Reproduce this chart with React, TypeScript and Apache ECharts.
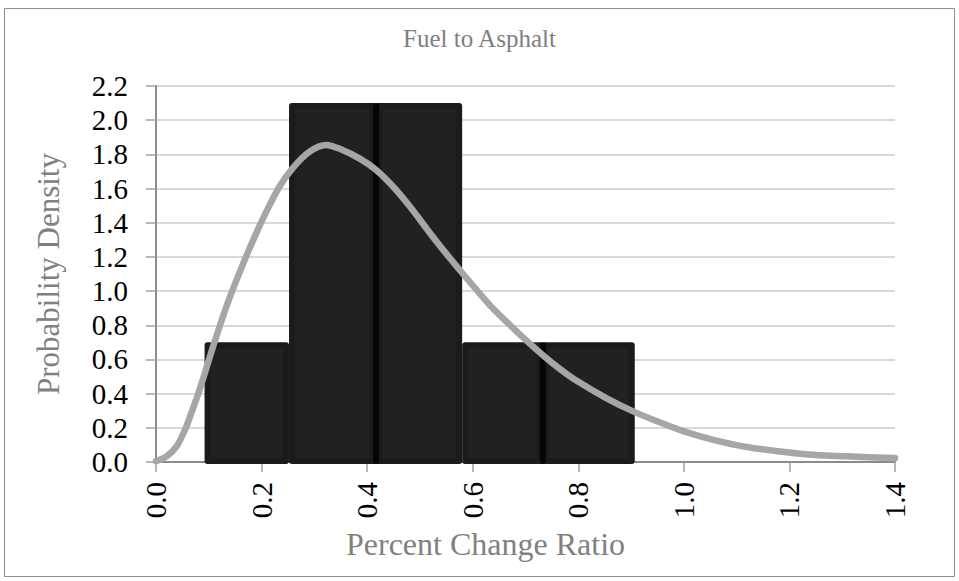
import React, { useEffect, useRef } from "react";
import * as echarts from "echarts";

// Histogram bins: left edge, right edge and density of each bin
const binStart = [0.092, 0.252, 0.417, 0.58, 0.733];
const binEnd = [0.252, 0.417, 0.58, 0.733, 0.907];
const binDensity = [0.7, 2.1, 2.1, 0.7, 0.7];

// Fitted density curve
const curveX = [
  0, 0.02, 0.039, 0.055, 0.067, 0.08, 0.093, 0.105, 0.118, 0.13, 0.143, 0.165,
  0.187, 0.209, 0.234, 0.259, 0.291, 0.322, 0.35, 0.386, 0.417, 0.449, 0.481,
  0.512, 0.544, 0.575, 0.607, 0.638, 0.67, 0.702, 0.733, 0.765, 0.797, 0.853,
  0.904, 0.954, 1.0, 1.056, 1.119, 1.182, 1.245, 1.308, 1.4,
];
const curveY = [
  0.005, 0.033, 0.091, 0.189, 0.287, 0.4, 0.525, 0.645, 0.77, 0.88, 0.99, 1.16,
  1.319, 1.465, 1.612, 1.72, 1.816, 1.855, 1.83, 1.775, 1.709, 1.612, 1.495,
  1.368, 1.241, 1.125, 1.008, 0.9, 0.803, 0.71, 0.625, 0.545, 0.475, 0.374,
  0.296, 0.232, 0.179, 0.13, 0.088, 0.062, 0.043, 0.033, 0.023,
];

const titleText = "Fuel to Asphalt";
const xName = "Percent Change Ratio";
const yName = "Probability Density";

const SERIF = "'Liberation Serif', 'Times New Roman', 'DejaVu Serif', serif";

export default function App() {
  const ref = useRef<HTMLDivElement>(null);

  useEffect(() => {
    if (!ref.current) return;
    const chart = echarts.init(ref.current, null, { renderer: "svg" });

    const bins = binStart.map((s, i) => [s, binEnd[i], binDensity[i]]);
    const curve = curveX.map((x, i) => [x, curveY[i]]);

    chart.setOption({
      animation: false,
      backgroundColor: "#ffffff",
      title: {
        text: titleText,
        left: "center",
        top: 21,
        textStyle: {
          fontFamily: SERIF,
          fontWeight: "normal",
          fontSize: 25,
          color: "#7f7f7f",
        },
      },
      graphic: [
        {
          type: "rect",
          shape: { x: 4.5, y: 8.5, width: 950, height: 568 },
          style: { fill: "none", stroke: "#8c8c8c", lineWidth: 1 },
          silent: true,
        },
      ],
      grid: { left: 156, right: 64, top: 86, bottom: 119 },
      xAxis: {
        type: "value",
        min: 0,
        max: 1.4,
        interval: 0.2,
        name: xName,
        nameLocation: "middle",
        nameGap: 66,
        nameTextStyle: {
          fontFamily: SERIF,
          fontSize: 32,
          color: "#808080",
          padding: [0, 80, 0, 0],
        },
        axisLine: { show: true, onZero: false, lineStyle: { color: "#8c8c8c", width: 2 } },
        axisTick: { show: true, inside: false, length: 10, lineStyle: { color: "#a0a0a0", width: 1.5 } },
        axisLabel: {
          rotate: 90,
          margin: 20,
          fontFamily: SERIF,
          fontSize: 29,
          color: "#000000",
          formatter: (v: number) => v.toFixed(1),
        },
        splitLine: { show: false },
      },
      yAxis: {
        type: "value",
        min: 0,
        max: 2.2,
        interval: 0.2,
        name: yName,
        nameLocation: "middle",
        nameGap: 92,
        nameTextStyle: { fontFamily: SERIF, fontSize: 31, color: "#808080" },
        axisLine: { show: true, lineStyle: { color: "#8c8c8c", width: 2 } },
        axisTick: { show: true, inside: false, length: 10, lineStyle: { color: "#a0a0a0", width: 1.5 } },
        axisLabel: {
          margin: 28,
          fontFamily: SERIF,
          fontSize: 29,
          color: "#000000",
          formatter: (v: number) => v.toFixed(1),
        },
        splitLine: { show: true, lineStyle: { color: "#cccccc", width: 1.5 } },
      },
      series: [
        {
          type: "custom",
          name: "Histogram",
          data: bins,
          encode: { x: [0, 1], y: 2 },
          z: 2,
          renderItem: (params: any, api: any) => {
            const topLeft = api.coord([api.value(0), api.value(2)]);
            const bottomRight = api.coord([api.value(1), 0]);
            const x = topLeft[0];
            const y = topLeft[1];
            const w = bottomRight[0] - topLeft[0];
            const h = bottomRight[1] - topLeft[1] + 2;
            const inset = 6;
            const children: any[] = [
              {
                type: "rect",
                shape: { x, y, width: w, height: h, r: 3 },
                style: { fill: "#1b1b1b" },
              },
              {
                type: "rect",
                shape: { x: x + inset, y: y + inset, width: w - 2 * inset, height: h - 2 * inset },
                style: { fill: "#212121" },
              },
            ];
            // darker seam where a bin follows one of its own height
            const prev = params.dataIndex > 0 ? binDensity[params.dataIndex - 1] : null;
            if (prev !== null && prev === binDensity[params.dataIndex]) {
              children.push({
                type: "rect",
                shape: { x: x - 3, y, width: 6, height: h, r: 2 },
                style: { fill: "#050505" },
              });
            }
            return { type: "group", children };
          },
        },
        {
          type: "line",
          name: "Density",
          data: curve,
          smooth: 0.3,
          showSymbol: false,
          z: 3,
          lineStyle: { color: "#a6a6a6", width: 6.5, cap: "round", join: "round" },
        },
      ],
    });

    return () => chart.dispose();
  }, []);

  return (
    <div
      ref={ref}
      style={{ position: "fixed", left: 0, top: 0, width: 959, height: 581 }}
    />
  );
}
